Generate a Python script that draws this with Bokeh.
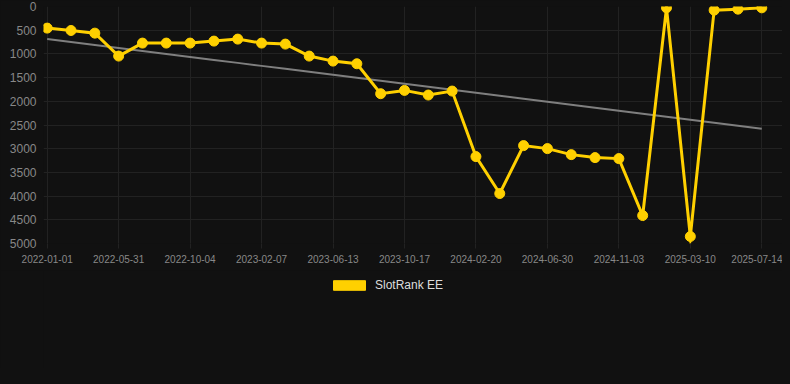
import numpy as np
from bokeh.plotting import figure
from bokeh.layouts import column
from bokeh.models import Range1d, FixedTicker, Legend, LegendItem
from bokeh.embed import file_html
from bokeh.resources import INLINE

# ---- data ----
tick_labels = ["2022-01-01", "2022-05-31", "2022-10-04", "2023-02-07", "2023-06-13",
               "2023-10-17", "2024-02-20", "2024-06-30", "2024-11-03", "2025-03-10",
               "2025-07-14"]
ranks = [456, 506, 562, 1046, 772, 772, 772, 730, 688, 772, 793, 1046, 1152, 1208,
         1840, 1770, 1868, 1784, 3167, 3946, 2935, 2998, 3125, 3188, 3209, 4410,
         28, 4852, 77, 56, 28]
series_name = "SlotRank EE"
y_ticks = list(range(0, 5001, 500))

BG = "#111111"
YELLOW = "#FFD000"
GRID = "#222222"
FONT = "Liberation Sans"

idx = np.arange(len(ranks))
slope, intercept = np.polyfit(idx, np.array(ranks, dtype=float), 1)
trend = slope * idx + intercept

W = 782
p = figure(width=W, height=270, output_backend="svg", toolbar_location=None,
           x_range=Range1d(-0.155, 30.87), y_range=Range1d(5000, 0),
           background_fill_color=BG, border_fill_color=BG,
           min_border_left=43, min_border_right=0, min_border_top=6,
           min_border_bottom=27)
p.outline_line_color = None

p.line(idx, trend, line_color="#7f7f7f", line_width=2)
p.line(idx, ranks, line_color=YELLOW, line_width=3, line_join="miter")
p.scatter(idx, ranks, size=10, fill_color=YELLOW, line_color=YELLOW)

# axes
p.xaxis.ticker = FixedTicker(ticks=list(range(0, len(ranks), 3)))
p.xaxis.major_label_overrides = {i * 3: lab for i, lab in enumerate(tick_labels)}
p.yaxis.ticker = FixedTicker(ticks=y_ticks)
for ax in (p.xaxis, p.yaxis):
    ax.axis_line_color = None
    ax.minor_tick_line_color = None
    ax.major_label_text_font = FONT
    ax.major_label_text_color = "#888888"
p.xaxis.major_tick_line_color = GRID
p.xaxis.major_tick_out = 5
p.xaxis.major_tick_in = 0
p.xaxis.major_label_standoff = 6
p.xaxis.major_label_text_font_size = "10px"
p.yaxis.major_tick_line_color = None
p.yaxis.major_tick_out = 0
p.yaxis.major_tick_in = 0
p.yaxis.major_label_standoff = 7
p.yaxis.major_label_text_font_size = "12px"

p.xgrid.grid_line_color = GRID
p.ygrid.grid_line_color = GRID

# legend strip below the chart
lg = figure(width=W, height=98, output_backend="svg", toolbar_location=None,
            x_axis_type=None, y_axis_type=None,
            x_range=Range1d(0, 1), y_range=Range1d(0, 1),
            background_fill_color=BG, border_fill_color=BG,
            min_border_left=0, min_border_right=0, min_border_top=0,
            min_border_bottom=0)
lg.outline_line_color = None
lg.grid.visible = False
swatch = lg.quad(left=[np.nan], right=[np.nan], top=[np.nan], bottom=[np.nan],
                 fill_color=YELLOW, line_color=YELLOW)
legend = Legend(items=[LegendItem(label=series_name, renderers=[swatch])],
                location=(286, 76), orientation="horizontal",
                glyph_width=40, glyph_height=12, label_standoff=6,
                label_text_font=FONT, label_text_font_size="12px",
                label_text_color="#dddddd", padding=0, margin=0, spacing=0,
                border_line_color=None, background_fill_alpha=0,
                label_height=12)
lg.add_layout(legend, "center")

layout = column(p, lg, spacing=0)
html = file_html(layout, INLINE)
html = html.replace("</head>", "<style>html, body { background: #111111; }</style></head>", 1)
open("out.html", "w").write(html)
